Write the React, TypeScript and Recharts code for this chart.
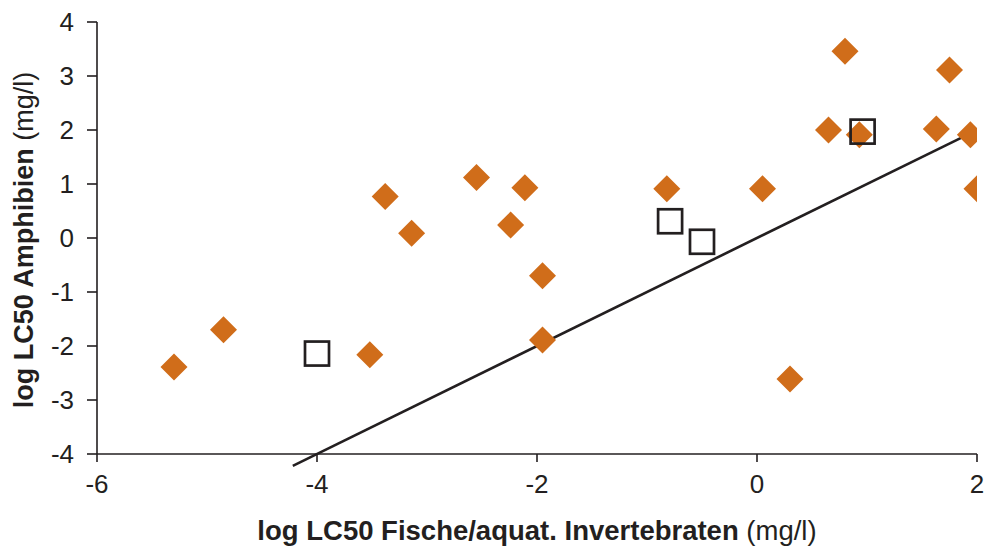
import { ScatterChart, Scatter, XAxis, YAxis, ReferenceLine, Label } from 'recharts'

// ---------------------------------------------------------------------------
// Data (log LC50 values)
// ---------------------------------------------------------------------------

const xTicks = [-6, -4, -2, 0, 2]
const yTicks = [-4, -3, -2, -1, 0, 1, 2, 3, 4]

// orange diamonds
const diamondX = [-5.3, -4.85, -3.52, -3.38, -3.14, -2.55, -2.24, -2.11, -1.95, -1.95, -0.82, 0.05, 0.3, 0.65, 0.8, 0.93, 1.63, 1.75, 1.94, 2.0]
const diamondY = [-2.39, -1.7, -2.16, 0.77, 0.09, 1.12, 0.24, 0.93, -0.7, -1.89, 0.91, 0.91, -2.61, 2.0, 3.46, 1.91, 2.02, 3.11, 1.91, 0.91]

// open squares
const squareX = [-4.0, -0.79, -0.5, 0.96]
const squareY = [-2.14, 0.31, -0.07, 1.97]

// 1:1 line
const lineX = [-4.22, 1.86]

const ORANGE = '#D06D1A'
const INK = '#231F20'
const FONT = '"Liberation Sans", Arial, Helvetica, sans-serif'

const diamonds = diamondX.map((x, i) => ({ x, y: diamondY[i] }))
const squares = squareX.map((x, i) => ({ x, y: squareY[i] }))
const segment = lineX.map((v) => ({ x: v, y: v }))

// ---------------------------------------------------------------------------
// Marker shapes
// ---------------------------------------------------------------------------

function Diamond(props: any) {
  const { cx, cy } = props
  const r = 13.5
  return (
    <polygon
      points={`${cx},${cy - r} ${cx + r},${cy} ${cx},${cy + r} ${cx - r},${cy}`}
      fill={ORANGE}
    />
  )
}

function OpenSquare(props: any) {
  const { cx, cy } = props
  const s = 24
  return (
    <rect x={cx - s / 2} y={cy - s / 2} width={s} height={s} fill="none" stroke={INK} strokeWidth={2.7} />
  )
}

// ---------------------------------------------------------------------------
// Axis titles (bold part + normal unit)
// ---------------------------------------------------------------------------

function XTitle(props: any) {
  const { viewBox } = props
  const cx = viewBox.x + viewBox.width / 2
  return (
    <text x={cx} y={540} textAnchor="middle" fontFamily={FONT} fontSize={27.5} fill={INK}>
      <tspan fontWeight="bold">log LC50 Fische/aquat. Invertebraten</tspan>
      <tspan> (mg/l)</tspan>
    </text>
  )
}

function YTitle(props: any) {
  const { viewBox } = props
  const cy = viewBox.y + viewBox.height / 2 + 2
  const x = 33
  return (
    <text x={x} y={cy} transform={`rotate(-90 ${x} ${cy})`} textAnchor="middle" fontFamily={FONT} fontSize={27} fill={INK}>
      <tspan fontWeight="bold">log LC50 Amphibien</tspan>
      <tspan> (mg/l)</tspan>
    </text>
  )
}

// ---------------------------------------------------------------------------
// App
// ---------------------------------------------------------------------------

export default function App() {
  const tick = { fontFamily: FONT, fontSize: 26, fill: INK }
  return (
    <div>
      <style>{'body { margin: 0; }'}</style>
      <ScatterChart width={988} height={549} margin={{ top: 22, right: 11, bottom: 0, left: 0 }}>
        <XAxis
          type="number"
          dataKey="x"
          domain={[-6, 2]}
          ticks={xTicks}
          allowDataOverflow
          height={95}
          tick={tick}
          tickSize={8}
          tickMargin={13}
          axisLine={{ stroke: INK, strokeWidth: 1.6 }}
          tickLine={{ stroke: INK, strokeWidth: 1.6 }}
        >
          <Label content={XTitle} />
        </XAxis>
        <YAxis
          type="number"
          dataKey="y"
          domain={[-4, 4]}
          ticks={yTicks}
          allowDataOverflow
          width={97}
          tick={tick}
          tickSize={10}
          tickMargin={13}
          axisLine={{ stroke: INK, strokeWidth: 1.6 }}
          tickLine={{ stroke: INK, strokeWidth: 1.6 }}
        >
          <Label content={YTitle} />
        </YAxis>
        <ReferenceLine
          segment={segment}
          ifOverflow="visible"
          stroke={INK}
          strokeWidth={2.6}
        />
        <Scatter data={diamonds} shape={Diamond} isAnimationActive={false} />
        <Scatter data={squares} shape={OpenSquare} isAnimationActive={false} />
      </ScatterChart>
    </div>
  )
}
